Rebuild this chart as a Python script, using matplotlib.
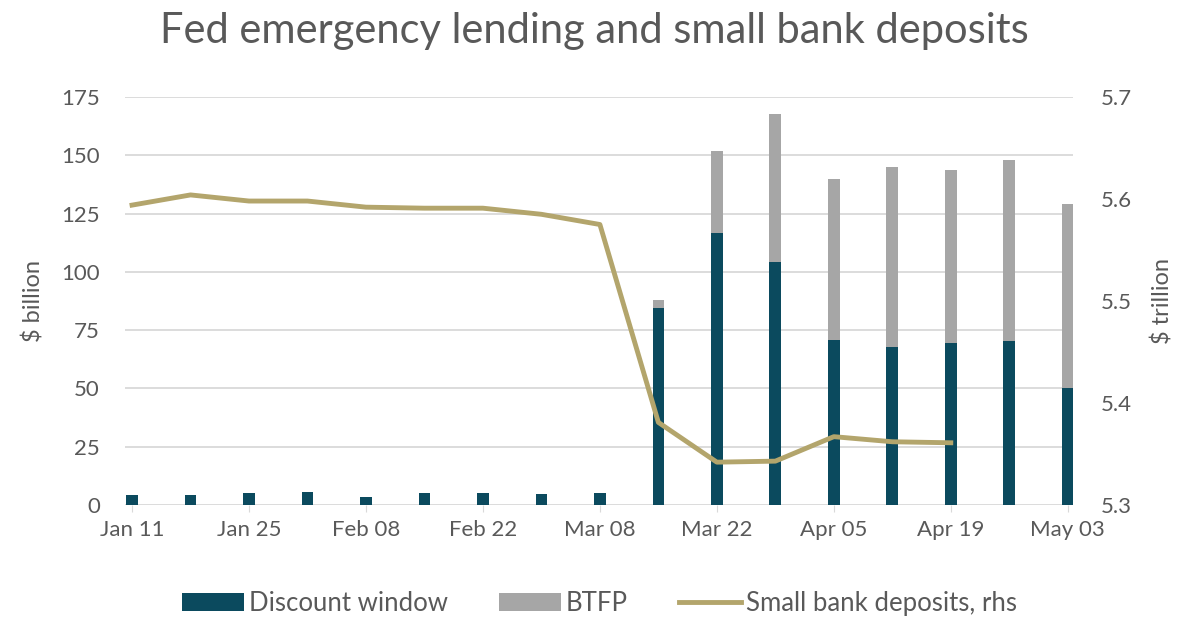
import matplotlib
matplotlib.use("Agg")
import matplotlib.pyplot as plt
import numpy as np
from matplotlib.patches import Patch
from matplotlib.lines import Line2D

plt.rcParams['font.family'] = ['Lato', 'DejaVu Sans']

weeks = ["Jan 11", "Jan 18", "Jan 25", "Feb 01", "Feb 08", "Feb 15", "Feb 22", "Mar 01",
         "Mar 08", "Mar 15", "Mar 22", "Mar 29", "Apr 05", "Apr 12", "Apr 19", "Apr 26", "May 03"]
discount_window = [4.3, 4.3, 5.0, 5.7, 3.6, 5.0, 5.0, 4.6, 5.0,
                   84.6, 116.6, 104.1, 70.7, 67.6, 69.7, 70.4, 50.1]
btfp = [0, 0, 0, 0, 0, 0, 0, 0, 0,
        3.3, 35.3, 63.8, 69.0, 77.2, 74.0, 77.5, 79.1]
small_bank_deposits = [5.594, 5.604, 5.598, 5.598, 5.592, 5.591, 5.591, 5.585, 5.575,
                       5.381, 5.342, 5.343, 5.367, 5.362, 5.361, np.nan, np.nan]

c_dw = "#0B4A5E"
c_btfp = "#A6A6A6"
c_line = "#B3A56C"
c_text = "#595959"
c_grid = "#D9D9D9"

fig = plt.figure(figsize=(11.85, 6.23), dpi=100)
ax = fig.add_axes([0.1055, 0.1894, 0.8, 0.6549])
x = np.arange(len(weeks))
w = 0.2
ax.bar(x, discount_window, width=w, color=c_dw, zorder=3)
ax.bar(x, btfp, width=w, bottom=discount_window, color=c_btfp, zorder=3)
ax.set_ylim(0, 175)
ax.set_yticks(np.arange(0, 176, 25))
ax.set_xlim(-0.12, 16.09)
ax.grid(axis='y', color=c_grid, linewidth=1.3, zorder=0)
for s in ax.spines.values():
    s.set_visible(False)
ax.set_xticks(x[::2])
ax.set_xticklabels(weeks[::2])
ax.tick_params(axis='x', length=5, color=c_grid, colors=c_text, labelsize=16, pad=6)
ax.tick_params(axis='y', length=0, colors=c_text, labelsize=16, pad=18)
ax.set_ylabel("$ billion", color=c_text, fontsize=17, labelpad=12)

ax2 = ax.twinx()
ax2.plot(x, small_bank_deposits, color=c_line, linewidth=3.5, zorder=4)
ax2.set_ylim(5.3, 5.7)
ax2.set_yticks([5.3, 5.4, 5.5, 5.6, 5.7])
ax2.set_yticklabels(["5.3", "5.4", "5.5", "5.6", "5.7"])
for s in ax2.spines.values():
    s.set_visible(False)
ax2.tick_params(axis='y', length=0, colors=c_text, labelsize=16, pad=20)
ax2.set_ylabel("$ trillion", color=c_text, fontsize=17, labelpad=14)

fig.suptitle("Fed emergency lending and small bank deposits", x=0.502, y=0.98,
             fontsize=30, color=c_text)

handles = [Patch(facecolor=c_dw), Patch(facecolor=c_btfp),
           Line2D([0], [0], color=c_line, linewidth=3.5)]
labels = ["Discount window", "BTFP", "Small bank deposits, rhs"]
fig.legend(handles, labels, loc='lower center', bbox_to_anchor=(0.506, -0.026), ncol=3,
           frameon=False, fontsize=18.5, handlelength=2.4, handleheight=0.65,
           handletextpad=0.2, columnspacing=2.0, labelcolor=c_text)

fig.savefig("out.png", dpi=100, facecolor='white')
